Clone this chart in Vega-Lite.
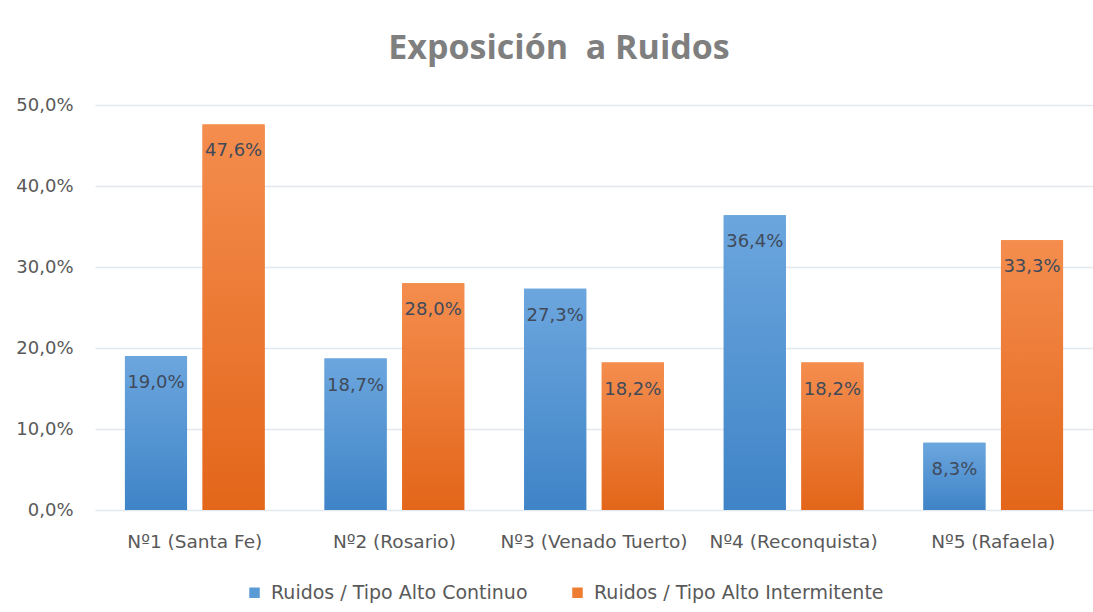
{
  "$schema": "https://vega.github.io/schema/vega-lite/v6.json",
  "width": 998,
  "height": 405,
  "autosize": {"type": "none"},
  "padding": {"left": 95, "top": 105, "right": 0, "bottom": 102},
  "background": "white",
  "config": {
    "locale": {"number": {"decimal": ",", "thousands": ".", "grouping": [3], "currency": ["", "€"]}},
    "view": {"stroke": null},
    "font": "DejaVu Sans"
  },
  "title": {"text": "Exposición\u00a0 a Ruidos", "font": "Open Sans", "fontSize": 34, "fontWeight": "bold", "color": "#7f7f7f", "offset": 30, "anchor": "middle", "dx": -35},
  "data": {
    "values": [
      {"sede": "Nº1 (Santa Fe)", "serie": "Ruidos / Tipo Alto Continuo", "valor": 0.19},
      {"sede": "Nº1 (Santa Fe)", "serie": "Ruidos / Tipo Alto Intermitente", "valor": 0.476},
      {"sede": "Nº2 (Rosario)", "serie": "Ruidos / Tipo Alto Continuo", "valor": 0.187},
      {"sede": "Nº2 (Rosario)", "serie": "Ruidos / Tipo Alto Intermitente", "valor": 0.28},
      {"sede": "Nº3 (Venado Tuerto)", "serie": "Ruidos / Tipo Alto Continuo", "valor": 0.273},
      {"sede": "Nº3 (Venado Tuerto)", "serie": "Ruidos / Tipo Alto Intermitente", "valor": 0.182},
      {"sede": "Nº4 (Reconquista)", "serie": "Ruidos / Tipo Alto Continuo", "valor": 0.364},
      {"sede": "Nº4 (Reconquista)", "serie": "Ruidos / Tipo Alto Intermitente", "valor": 0.182},
      {"sede": "Nº5 (Rafaela)", "serie": "Ruidos / Tipo Alto Continuo", "valor": 0.083},
      {"sede": "Nº5 (Rafaela)", "serie": "Ruidos / Tipo Alto Intermitente", "valor": 0.333}
    ]
  },
  "encoding": {
    "x": {"field": "sede", "type": "nominal", "sort": null,
      "scale": {"paddingInner": 0.3, "paddingOuter": 0.15},
      "axis": {"title": null, "labelAngle": 0, "ticks": false, "domain": false, "labelPadding": 22, "labelFontSize": 18.5, "labelColor": "#595959", "labelLimit": 300}},
    "xOffset": {"field": "serie", "type": "nominal", "sort": null, "scale": {"paddingInner": 0.2}},
    "y": {"field": "valor", "type": "quantitative", "scale": {"domain": [0, 0.5]},
      "axis": {"title": null, "format": ".1%", "values": [0, 0.1, 0.2, 0.3, 0.4, 0.5], "domain": false, "ticks": false, "labelPadding": 22, "gridColor": "#e3e7ee", "gridWidth": 1.5, "labelFontSize": 18, "labelColor": "#595959"}}
  },
  "layer": [
    {"mark": {"type": "bar"},
      "encoding": {"color": {"field": "serie", "type": "nominal", "sort": null,
        "scale": {"range": ["#5b9bd5", "#ed7d31"]},
        "legend": {"title": null, "orient": "none", "legendX": 150, "legendY": 478, "direction": "horizontal", "symbolType": "square", "symbolSize": 110, "symbolStrokeWidth": 0, "labelFontSize": 19, "labelColor": "#595959", "columnPadding": 40, "labelOffset": 7, "labelLimit": 400}}}},
    {"transform": [{"filter": "datum.serie == 'Ruidos / Tipo Alto Continuo'"}],
      "mark": {"type": "bar", "color": {"gradient": "linear", "x1": 0, "y1": 0, "x2": 0, "y2": 1, "stops": [{"offset": 0, "color": "#6ca6de"}, {"offset": 1, "color": "#3f84c7"}]}}},
    {"transform": [{"filter": "datum.serie == 'Ruidos / Tipo Alto Intermitente'"}],
      "mark": {"type": "bar", "color": {"gradient": "linear", "x1": 0, "y1": 0, "x2": 0, "y2": 1, "stops": [{"offset": 0, "color": "#f48d4e"}, {"offset": 1, "color": "#e3661a"}]}}},
    {"mark": {"type": "text", "baseline": "middle", "dy": 27, "fontSize": 18, "color": "#404a5a"},
      "encoding": {"text": {"field": "valor", "type": "quantitative", "format": ".1%"}}}
  ]
}
